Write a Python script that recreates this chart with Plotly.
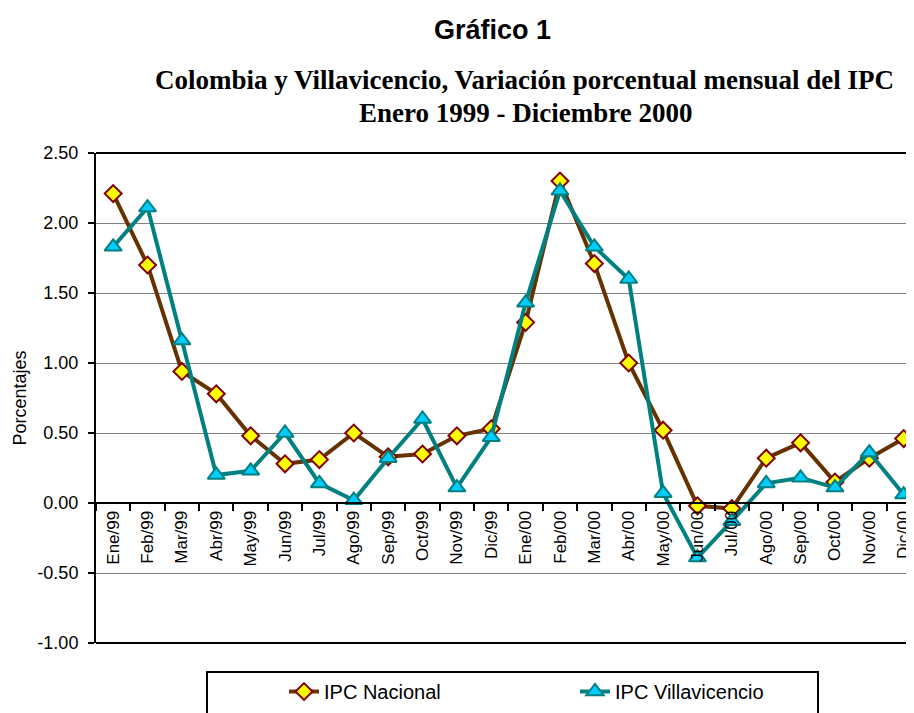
import plotly.graph_objects as go

months = ["Ene/99", "Feb/99", "Mar/99", "Abr/99", "May/99", "Jun/99", "Jul/99", "Ago/99",
          "Sep/99", "Oct/99", "Nov/99", "Dic/99", "Ene/00", "Feb/00", "Mar/00", "Abr/00",
          "May/00", "Jun/00", "Jul/00", "Ago/00", "Sep/00", "Oct/00", "Nov/00", "Dic/00"]

ipc_nacional = [2.21, 1.70, 0.94, 0.78, 0.48, 0.28, 0.31, 0.50, 0.33, 0.35, 0.48, 0.53,
                1.29, 2.30, 1.71, 1.00, 0.52, -0.02, -0.04, 0.32, 0.43, 0.15, 0.32, 0.46]

ipc_villavicencio = [1.83, 2.11, 1.16, 0.20, 0.23, 0.50, 0.14, 0.02, 0.32, 0.60, 0.11, 0.47,
                     1.43, 2.23, 1.83, 1.60, 0.07, -0.39, -0.13, 0.14, 0.18, 0.11, 0.36, 0.06]

y_ticks = [-1.0, -0.5, 0.0, 0.5, 1.0, 1.5, 2.0, 2.5]
y_tick_labels = ["-1.00", "-0.50", "0.00", "0.50", "1.00", "1.50", "2.00", "2.50"]

# page body has an 8px margin; work in figure pixels = screen pixels - 8
OFF = 8
W, H = 906, 705
L, R, T, B = 96 - OFF, 0, 153 - OFF, 70
PW = W - L - R
PH = H - T - B


def px_x(px):
    return (px - OFF - L) / PW


def px_y(py):
    return (H - B - (py - OFF)) / PH


SANS = "Liberation Sans, Arial, sans-serif"
SERIF = "Liberation Serif, Times New Roman, serif"

fig = go.Figure()
fig.add_trace(go.Scatter(
    x=months, y=ipc_nacional, name="IPC Nacional", mode="lines+markers",
    line=dict(color="#663300", width=4),
    marker=dict(symbol="diamond", size=13, color="#FFFF00",
                line=dict(color="#800000", width=2)),
))
fig.add_trace(go.Scatter(
    x=months, y=ipc_villavicencio, name="IPC Villavicencio", mode="lines+markers",
    line=dict(color="#008080", width=4),
    marker=dict(symbol="triangle-up", size=15, color="#00CCFF",
                line=dict(color="#008080", width=2)),
))

ymin, ymax = -1.0, 2.5
fig.update_layout(
    width=W, height=H,
    margin=dict(l=L, r=R, t=T, b=B, autoexpand=False),
    paper_bgcolor="white", plot_bgcolor="white",
    font=dict(family=SANS, color="black", size=16),
    showlegend=True,
    legend=dict(orientation="h", x=px_x(284), y=px_y(672), xanchor="left", yanchor="top",
                font=dict(family=SANS, size=20, color="black"),
                entrywidth=246, bgcolor="rgba(0,0,0,0)", borderwidth=0),
    xaxis=dict(type="category", range=[-0.5, 23.3], anchor="free",
               position=(0 - ymin) / (ymax - ymin),
               showline=True, linecolor="black", linewidth=2,
               ticks="outside", tickson="boundaries", ticklen=7, tickwidth=2, tickcolor="black",
               tickangle=-90, tickfont=dict(family=SANS, size=17, color="black"),
               showgrid=False, zeroline=False),
    yaxis=dict(range=[ymin, ymax], tickvals=y_ticks, ticktext=y_tick_labels,
               showgrid=True, gridcolor="#808080", gridwidth=1, zeroline=False,
               showline=True, linecolor="black", linewidth=2,
               ticks="outside", ticklen=6, tickwidth=1.5, tickcolor="black",
               ticklabelstandoff=6,
               tickfont=dict(family=SANS, size=18, color="black"),
               title=dict(text="Porcentajes", font=dict(family=SANS, size=18, color="black"),
                          standoff=6)),
    shapes=[
        dict(type="line", xref="paper", yref="paper", x0=0, x1=1, y0=1, y1=1,
             line=dict(color="black", width=2)),
        dict(type="line", xref="paper", yref="paper", x0=0, x1=1, y0=0, y1=0,
             line=dict(color="black", width=2)),
        dict(type="rect", xref="paper", yref="paper",
             x0=px_x(207), x1=px_x(818), y0=px_y(672), y1=px_y(740),
             line=dict(color="black", width=2), fillcolor="rgba(0,0,0,0)"),
    ],
    annotations=[
        dict(text="<b>Gráfico 1</b>", xref="paper", yref="paper", x=px_x(492), y=px_y(30),
             xanchor="center", yanchor="middle", showarrow=False,
             font=dict(family=SANS, size=27, color="black")),
        dict(text="<b>Colombia y Villavicencio, Variación porcentual mensual del IPC</b>",
             xref="paper", yref="paper", x=px_x(524), y=px_y(80),
             xanchor="center", yanchor="middle", showarrow=False,
             font=dict(family=SERIF, size=27, color="black")),
        dict(text="<b>Enero 1999 - Diciembre 2000</b>",
             xref="paper", yref="paper", x=px_x(525), y=px_y(113),
             xanchor="center", yanchor="middle", showarrow=False,
             font=dict(family=SERIF, size=27, color="black")),
    ],
)

fig.write_html("out.html")
